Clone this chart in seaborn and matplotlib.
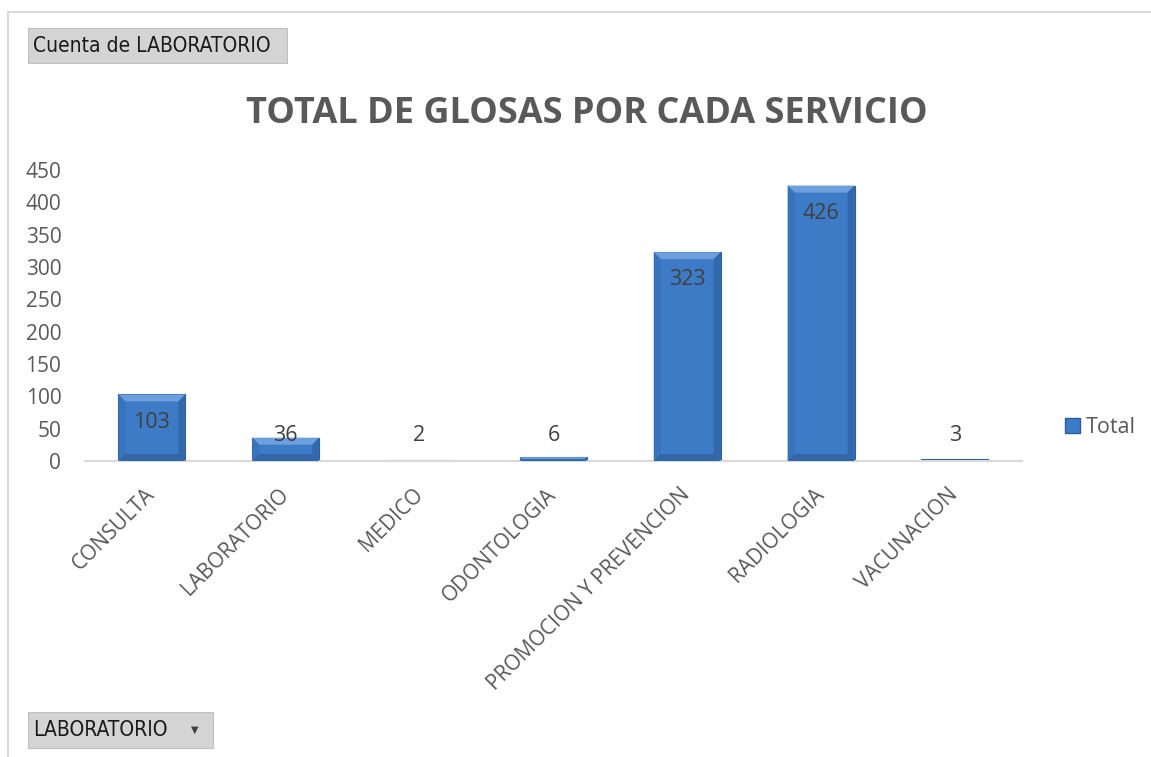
import matplotlib
matplotlib.use("Agg")
import matplotlib.pyplot as plt
import seaborn as sns
import pandas as pd
from matplotlib.patches import Rectangle, Polygon
from matplotlib.lines import Line2D

servicios = ["CONSULTA", "LABORATORIO", "MEDICO", "ODONTOLOGIA",
             "PROMOCION Y PREVENCION", "RADIOLOGIA", "VACUNACION"]
totales = [103, 36, 2, 6, 323, 426, 3]
y_ticks = [0, 50, 100, 150, 200, 250, 300, 350, 400, 450]

df = pd.DataFrame({"servicio": servicios, "total": totales})

sns.set_theme(style="white")
plt.rcParams["font.family"] = ["Open Sans", "DejaVu Sans"]

gray = "#595959"
bar_color = "#3d7bc6"

fig = plt.figure(figsize=(11.51, 7.57), dpi=100)
ax = fig.add_axes([0.0738, 0.391, 0.814, 0.3843])

sns.barplot(data=df, x="servicio", y="total", color=bar_color, width=0.5,
            saturation=1, edgecolor="#2c5d9c", linewidth=0.8, ax=ax)

ax.set_ylim(0, 450)
ax.set_xlim(-0.5, len(servicios) - 0.5)
ax.set_yticks(y_ticks)
ax.set_yticklabels([str(t) for t in y_ticks], color=gray, fontsize=15)
ax.set_xticks(range(len(servicios)))
ax.set_xticklabels(servicios, rotation=45, ha="right", va="center",
                   rotation_mode="anchor", color=gray, fontsize=15)
ax.tick_params(axis="y", length=0, pad=17)
ax.tick_params(axis="x", length=0, pad=22)
ax.set_xlabel("")
ax.set_ylabel("")
for side in ["top", "right", "left"]:
    ax.spines[side].set_visible(False)
ax.spines["bottom"].set_color("#d9d9d9")
ax.spines["bottom"].set_linewidth(1.5)

# bevel look on the bars (light top, slightly darker sides)
fig.canvas.draw()
for p in ax.patches:
    (x0, y0), (x1, y1) = ax.transData.transform([(p.get_x(), 0),
                                                 (p.get_x() + p.get_width(), p.get_height())])
    b = min(7, (y1 - y0) / 2)
    if b < 1:
        continue
    top = [(x0, y1), (x1, y1), (x1 - b, y1 - b), (x0 + b, y1 - b)]
    left = [(x0, y0), (x0, y1), (x0 + b, y1 - b), (x0 + b, y0 + b)]
    right = [(x1, y0), (x1, y1), (x1 - b, y1 - b), (x1 - b, y0 + b)]
    bottom = [(x0, y0), (x1, y0), (x1 - b, y0 + b), (x0 + b, y0 + b)]
    for pts, c in [(top, "#6c9fdb"), (left, "#3873bb"), (right, "#3269ad"), (bottom, "#3166a8")]:
        ax.add_patch(Polygon(pts, closed=True, transform=None, facecolor=c,
                             edgecolor="none", zorder=3))

# data labels: inside end, pushed above when the bar is too short
for i, v in enumerate(totales):
    ax.text(i, max(v - 43, 39), str(v), ha="center", va="center",
            color="#404040", fontsize=15.5, zorder=5)

fig.text(0.51, 0.849, "TOTAL DE GLOSAS POR CADA SERVICIO", ha="center",
         va="center", fontsize=26, fontweight="bold", color=gray)

# legend
leg = ax.legend(handles=[Rectangle((0, 0), 1, 1, facecolor=bar_color, edgecolor="#2c5d9c")],
                labels=["Total"], loc="center left", bbox_to_anchor=(1.025, 0.115),
                frameon=False, fontsize=15.5, handlelength=0.7, handleheight=0.7,
                handletextpad=0.3)
for t in leg.get_texts():
    t.set_color(gray)

# chart frame
fig.add_artist(Line2D([8 / 1151, 1], [1 - 12 / 757, 1 - 12 / 757], color="#d9d9d9", lw=1.5))
fig.add_artist(Line2D([8 / 1151, 8 / 1151], [0, 1 - 12 / 757], color="#d9d9d9", lw=1.5))

# pivot field buttons
def button(x0, y0, x1, y1, label, arrow=False):
    W, H = 1151, 757
    box = Rectangle((x0 / W, 1 - y1 / H), (x1 - x0) / W, (y1 - y0) / H,
                    transform=fig.transFigure, facecolor="#d4d4d4",
                    edgecolor="#c0c0c0", lw=0.8)
    fig.add_artist(box)
    fig.text((x0 + 5) / W, 1 - (y0 + y1) / 2 / H, label, ha="left", va="center",
             fontsize=15, color="#1a1a1a", family=["DejaVu Sans"], fontstretch="condensed")
    if arrow:
        fig.text((x1 - 18) / W, 1 - (y0 + y1) / 2 / H, "▼", ha="center", va="center",
                 fontsize=7, color="#404040", family=["DejaVu Sans"])

button(28, 28, 287, 63, "Cuenta de LABORATORIO")
button(28, 712, 213, 748, "LABORATORIO", arrow=True)

fig.savefig("out.png", dpi=100, facecolor="white")
